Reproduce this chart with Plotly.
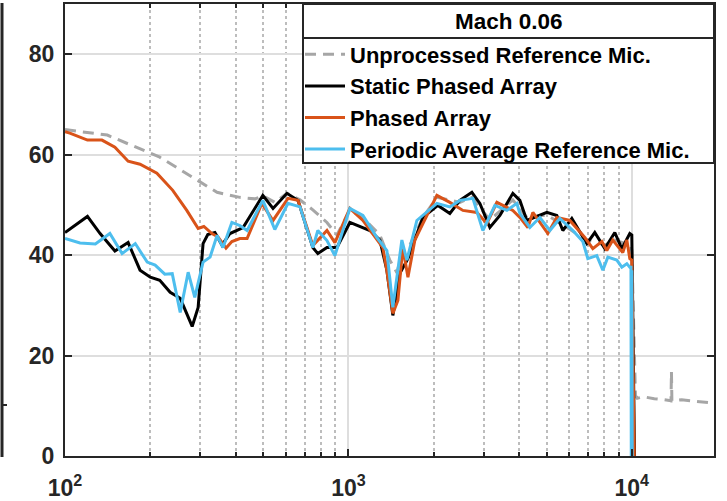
import plotly.graph_objects as go

# ---------------- data ----------------
f_unproc = [100, 141, 216, 283, 344, 414, 468, 499, 550, 607, 675, 749, 840, 911, 1012, 1125,
            1291, 1400, 1483, 1556, 1648, 1832, 2052, 2474, 2727, 3156, 3804, 4262, 5015, 5710,
            6940, 8032, 8710, 9838, 10000, 10300, 10450, 11000, 12000, 13000, 13750, 13800,
            13850, 15000, 17000, 19500]
v_unproc = [65.0, 63.9, 59.5, 55.5, 52.5, 51.5, 51.2, 51.8, 50.5, 52.3, 51.0, 49.0, 46.5, 44.0,
            49.0, 47.5, 44.0, 39.0, 36.5, 41.0, 42.0, 47.5, 51.5, 50.5, 51.5, 47.0, 51.0, 47.5,
            48.0, 46.0, 43.0, 42.0, 43.0, 42.0, 41.0, 12.0, 11.5, 11.8, 11.4, 11.2, 11.0, 16.8,
            11.0, 11.2, 10.8, 10.5]

f_static = [100, 120, 133, 150, 167, 184, 200, 216, 235, 255, 281, 295, 307, 319, 338, 358, 382,
            425, 499, 542, 607, 664, 749, 780, 840, 911, 1012, 1125, 1191, 1291, 1367, 1435, 1519,
            1622, 1832, 2069, 2280, 2474, 2727, 2910, 3156, 3424, 3804, 4027, 4262, 5015, 5437,
            5710, 6143, 6940, 7402, 8032, 8710, 9220, 9838, 10000, 10150, 10200, 10250]
v_static = [44.5, 47.7, 44.3, 40.8, 42.5, 37.0, 35.6, 35.0, 32.6, 31.4, 25.8, 29.6, 42.3, 44.1,
            44.5, 42.0, 44.3, 45.5, 51.9, 49.3, 52.3, 50.9, 41.5, 40.3, 41.5, 41.5, 46.5, 45.5,
            44.9, 43.0, 37.0, 28.0, 36.4, 39.3, 47.5, 49.9, 48.3, 50.9, 52.5, 50.3, 45.5, 47.9,
            52.3, 50.9, 46.9, 48.5, 47.9, 44.9, 47.3, 42.3, 44.5, 41.3, 44.5, 41.3, 44.3, 44.0,
            14.0, 9.5, -5.0]

f_phased = [100, 104, 120, 135, 150, 167, 184, 211, 240, 269, 295, 309, 330, 347, 370, 388, 414,
            439, 495, 542, 612, 664, 749, 840, 896, 1012, 1125, 1323, 1367, 1435, 1495, 1556, 1622,
            1716, 1832, 2052, 2280, 2535, 2840, 3080, 3341, 3804, 4027, 4297, 4476, 5055, 5437,
            6044, 6827, 7284, 7839, 8163, 8570, 9293, 9603, 9838, 10000, 10150, 10200, 10230]
v_phased = [64.6, 64.3, 62.9, 62.9, 61.5, 58.7, 58.1, 56.3, 52.9, 48.9, 45.3, 45.7, 44.3, 43.6,
            41.4, 42.7, 43.3, 43.3, 50.3, 46.9, 51.3, 50.9, 41.9, 44.9, 42.5, 49.3, 46.9, 41.5,
            36.9, 28.4, 31.0, 41.5, 35.6, 43.0, 46.3, 51.9, 50.5, 48.9, 48.5, 46.3, 50.5, 48.9,
            47.5, 45.5, 48.5, 44.3, 47.5, 46.9, 43.5, 41.3, 42.7, 40.9, 43.0, 40.5, 43.0, 39.3,
            39.0, 12.0, 8.0, -5.0]

f_periodic = [100, 113, 128, 144, 159, 177, 195, 208, 225, 239, 255, 272, 287, 307, 325, 344, 361,
              388, 414, 439, 499, 550, 612, 675, 749, 780, 840, 896, 1012, 1125, 1261, 1367, 1435,
              1544, 1608, 1744, 2052, 2280, 2474, 2749, 2982, 3287, 3624, 3930, 4027, 4368, 4738,
              5138, 5572, 6194, 6718, 6994, 7523, 7903, 8230, 8853, 9220, 9603, 9838, 9930, 9960,
              10000, 10040]
v_periodic = [43.3, 42.4, 42.2, 44.3, 40.3, 42.3, 38.6, 38.0, 36.2, 36.3, 28.6, 36.6, 31.6, 38.6,
              39.6, 43.9, 41.5, 46.5, 45.9, 44.9, 50.9, 45.1, 50.3, 49.6, 41.5, 44.9, 42.9, 39.9,
              49.3, 47.9, 43.5, 40.9, 29.6, 43.0, 39.0, 46.9, 50.3, 49.6, 50.9, 51.3, 44.9, 49.9,
              48.9, 50.3, 48.3, 45.5, 47.5, 44.9, 47.3, 44.9, 42.7, 39.3, 39.9, 37.0, 39.6, 39.0,
              37.6, 38.3, 37.6, 37.6, -5.0, 37.0, -5.0]

series_names = ["Unprocessed Reference Mic.", "Static Phased Array", "Phased Array",
                "Periodic Average Reference Mic."]
legend_title = "Mach 0.06"
y_ticks = [0, 20, 40, 60, 80]
x_ticks = [100, 1000, 10000]
x_ticktext = ["10<sup>2</sup>", "10<sup>3</sup>", "10<sup>4</sup>"]
x_minor = [200, 300, 400, 500, 600, 700, 800, 900,
           2000, 3000, 4000, 5000, 6000, 7000, 8000, 9000]

# ---------------- figure ----------------
W, H = 727, 501
L, R, T, B = 65, 13, 4, 45
pw, ph = W - L - R, H - T - B


def px(x):
    return (x - L) / pw


def py(y):
    return (H - B - y) / ph


FONT = "Liberation Sans"
AX = "#262626"

fig = go.Figure()
fig.add_trace(go.Scatter(x=f_unproc, y=v_unproc, mode="lines", name=series_names[0],
                         line=dict(color="#A6A6A6", width=3, dash="11px,7px")))
fig.add_trace(go.Scatter(x=f_static, y=v_static, mode="lines", name=series_names[1],
                         line=dict(color="#000000", width=3)))
fig.add_trace(go.Scatter(x=f_phased, y=v_phased, mode="lines", name=series_names[2],
                         line=dict(color="#D95319", width=3)))
fig.add_trace(go.Scatter(x=f_periodic, y=v_periodic, mode="lines", name=series_names[3],
                         line=dict(color="#4DBEEE", width=3)))

tickfont = dict(family=FONT, size=23, color=AX, weight="bold")

fig.update_layout(
    width=W, height=H,
    margin=dict(l=L, r=R, t=T, b=B, pad=0, autoexpand=False),
    paper_bgcolor="white", plot_bgcolor="white",
    showlegend=True,
    legend=dict(x=px(300), y=py(33.5), xanchor="left", yanchor="top",
                bgcolor="rgba(0,0,0,0)", borderwidth=0,
                font=dict(family=FONT, size=22, color="#000000", weight="bold"),
                tracegroupgap=0, itemwidth=40),
    xaxis=dict(type="log", range=[2, 4.29], tickmode="array", tickvals=x_ticks,
               ticktext=x_ticktext, automargin=False,
               showline=True, linecolor=AX, linewidth=2, mirror="ticks",
               ticks="inside", ticklen=7, tickwidth=2, tickcolor=AX,
               showgrid=True, gridcolor="#DEDEDE", gridwidth=2,
               tickfont=tickfont, zeroline=False, ticklabelstandoff=10,
               minor=dict(tickmode="array", tickvals=x_minor, ticks="inside", ticklen=4,
                          tickwidth=1.5, tickcolor=AX, showgrid=True, gridcolor="#BDBDBD",
                          gridwidth=1.5, griddash="dot")),
    yaxis=dict(range=[0, 90], tickvals=y_ticks, automargin=False,
               showline=True, linecolor=AX, linewidth=2, mirror="ticks",
               ticks="inside", ticklen=7, tickwidth=2, tickcolor=AX,
               showgrid=True, gridcolor="#DEDEDE", gridwidth=2,
               tickfont=tickfont, zeroline=False, ticklabelstandoff=4),
)

# legend box (white, opaque) with title separator
fig.add_shape(type="rect", xref="paper", yref="paper", x0=px(303), x1=1, y0=py(163), y1=1,
              fillcolor="white", line=dict(color=AX, width=2), layer="above")
fig.add_shape(type="line", xref="paper", yref="paper", x0=px(303), x1=1, y0=py(38), y1=py(38),
              line=dict(color=AX, width=2), layer="above")
fig.add_annotation(xref="paper", yref="paper", x=px(508.5), y=py(21), text=legend_title,
                   showarrow=False, xanchor="center", yanchor="middle",
                   font=dict(family=FONT, size=22.5, color="#000000", weight="bold"))

# edge of the neighbouring panel on the left
fig.add_shape(type="line", xref="paper", yref="paper", x0=px(2), x1=px(2), y0=py(457), y1=py(3),
              line=dict(color=AX, width=3), layer="above")
fig.add_shape(type="line", xref="paper", yref="paper", x0=px(2), x1=px(7), y0=py(405), y1=py(405),
              line=dict(color=AX, width=2), layer="above")

fig.write_html("out.html")
